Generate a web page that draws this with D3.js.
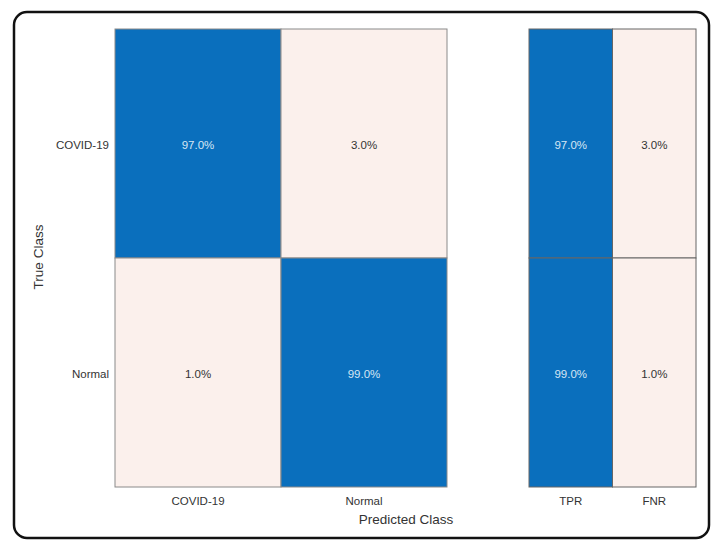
<!DOCTYPE html>
<html><head><meta charset="utf-8">
<script src="https://cdn.jsdelivr.net/npm/d3@7"></script>
<style>body{margin:0;background:#fff;}svg{display:block;font-family:"Liberation Sans",Arial,sans-serif;}</style>
</head><body>
<svg id="c" width="719" height="550"></svg>
<script>
const classes = ["COVID-19", "Normal"];
const matrix = [[97.0, 3.0], [1.0, 99.0]];
const rateLabels = ["TPR", "FNR"];
const rates = [[97.0, 3.0], [99.0, 1.0]];

const svg = d3.select("#c");
const blue = "#0a6fbd", pink = "#fbf0ec";

// frame
svg.append("rect").attr("x",14).attr("y",12).attr("width",695).attr("height",526)
  .attr("rx",13).attr("fill","none").attr("stroke","#111").attr("stroke-width",2.5);

const y = d3.scaleBand().domain(classes).range([29, 487]);
const x = d3.scaleBand().domain(classes).range([115, 447]);
const x2 = d3.scaleBand().domain(rateLabels).range([529, 696]);

const cells = [];
matrix.forEach((row,i)=>row.forEach((v,j)=>cells.push({r:classes[i],c:classes[j],v,diag:i===j})));
const g = svg.append("g");
g.selectAll("rect.m").data(cells).enter().append("rect")
  .attr("x",d=>x(d.c)).attr("y",d=>y(d.r)).attr("width",x.bandwidth()).attr("height",y.bandwidth())
  .attr("fill",d=>d.diag?blue:pink).attr("stroke","#8a8a8a").attr("stroke-width",1);
g.selectAll("text.m").data(cells).enter().append("text")
  .attr("x",d=>x(d.c)+x.bandwidth()/2).attr("y",d=>y(d.r)+y.bandwidth()/2+5)
  .attr("text-anchor","middle").attr("font-size",11.5)
  .attr("fill",d=>d.diag?"#d6e6f4":"#333").text(d=>d.v.toFixed(1)+"%");

const rc = [];
rates.forEach((row,i)=>row.forEach((v,j)=>rc.push({r:classes[i],c:rateLabels[j],v,blue:j===0})));
g.selectAll("rect.r").data(rc).enter().append("rect")
  .attr("x",d=>x2(d.c)).attr("y",d=>y(d.r)).attr("width",x2.bandwidth()).attr("height",y.bandwidth())
  .attr("fill",d=>d.blue?blue:pink).attr("stroke","#666").attr("stroke-width",1);
g.selectAll("text.r").data(rc).enter().append("text")
  .attr("x",d=>x2(d.c)+x2.bandwidth()/2).attr("y",d=>y(d.r)+y.bandwidth()/2+5)
  .attr("text-anchor","middle").attr("font-size",11.5)
  .attr("fill",d=>d.blue?"#d6e6f4":"#333").text(d=>d.v.toFixed(1)+"%");

// axes
const xa = svg.append("g").attr("transform","translate(0,487)").call(d3.axisBottom(x).tickSize(0).tickPadding(10));
const xb = svg.append("g").attr("transform","translate(0,487)").call(d3.axisBottom(x2).tickSize(0).tickPadding(10));
const ya = svg.append("g").attr("transform","translate(115,2)").call(d3.axisLeft(y).tickSize(0).tickPadding(6));
[xa,xb,ya].forEach(a=>{a.select(".domain").remove();
  a.selectAll("text").attr("font-size",11.5).attr("fill","#333").attr("font-family","Liberation Sans, Arial, sans-serif");});

svg.append("text").attr("x",406).attr("y",524).attr("text-anchor","middle")
  .attr("font-size",13.5).attr("fill","#333").text("Predicted Class");
svg.append("text").attr("transform","translate(43,257) rotate(-90)").attr("text-anchor","middle")
  .attr("font-size",13.5).attr("fill","#333").text("True Class");
</script>
</body></html>
